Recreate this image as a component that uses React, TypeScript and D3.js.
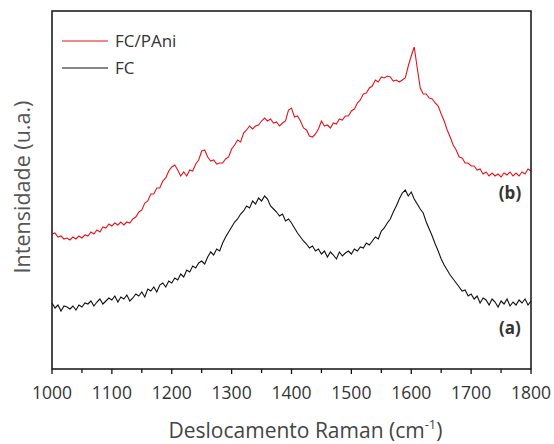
import React, { useEffect, useRef } from "react";
import * as d3 from "d3";

// Raman shift sampling (cm-1)
const shiftStart = 1000;
const shiftStep = 5;

// (b) FC/PAni, intensity (a.u.) every 5 cm-1 from 1000 to 1800
const fcPani = [
  135, 136, 132, 133, 130, 131, 129, 132, 130, 133, 131, 134, 133, 137, 135, 139, 137, 142, 141, 145,
  143, 146, 144, 147, 144, 147, 146, 150, 152, 157, 159, 166, 168, 175, 175, 181, 181, 188, 191, 198,
  202, 204, 199, 193, 197, 193, 199, 198, 205, 209, 218, 219, 212, 208, 209, 205, 206, 206, 210, 212,
  220, 224, 229, 227, 236, 239, 243, 240, 243, 244, 248, 251, 248, 250, 246, 247, 243, 246, 248, 259,
  261, 252, 253, 248, 241, 239, 233, 232, 235, 240, 248, 243, 244, 241, 246, 245, 250, 249, 253, 253,
  258, 260, 266, 269, 275, 276, 281, 283, 289, 287, 292, 291, 293, 292, 288, 289, 287, 289, 291, 303,
  313, 322, 301, 281, 275, 275, 271, 270, 266, 263, 255, 248, 239, 232, 224, 219, 212, 211, 206, 206,
  203, 203, 199, 200, 195, 197, 193, 196, 193, 195, 192, 196, 194, 197, 193, 196, 193, 197, 195, 200,
  198,
];

// (a) FC, intensity (a.u.) every 5 cm-1 from 1000 to 1800
const fc = [
  66, 61, 64, 58, 63, 62, 60, 63, 59, 64, 62, 66, 65, 68, 63, 67, 70, 65, 68, 71,
  69, 73, 67, 72, 70, 74, 68, 71, 75, 73, 77, 72, 80, 78, 82, 77, 84, 86, 82, 88,
  86, 91, 89, 95, 92, 99, 97, 103, 101, 106, 108, 105, 112, 117, 114, 120, 118, 126, 132, 137,
  142, 147, 150, 155, 158, 163, 161, 168, 165, 171, 168, 173, 170, 163, 160, 157, 153, 155, 148, 150,
  146, 141, 136, 132, 128, 125, 121, 123, 118, 120, 115, 118, 112, 117, 114, 110, 117, 113, 116, 118,
  115, 120, 118, 122, 121, 126, 124, 128, 132, 130, 138, 141, 146, 150, 157, 163, 170, 176, 179, 173,
  177, 170, 165, 160, 156, 147, 140, 133, 125, 118, 110, 104, 99, 94, 90, 86, 82, 78, 79, 73,
  75, 70, 73, 66, 71, 69, 64, 70, 67, 62, 68, 65, 70, 63, 67, 64, 69, 66, 70, 64,
  68,
];

const xTicks = [1000, 1100, 1200, 1300, 1400, 1500, 1600, 1700, 1800];
const xMinorTicks = [1050, 1150, 1250, 1350, 1450, 1550, 1650, 1750];
const seriesNames = ["FC/PAni", "FC"];
const seriesColors = ["#e3141b", "#111111"];
const curveLabels = ["(b)", "(a)"];

const W = 554;
const H = 444;
const margin = { top: 11, right: 23, bottom: 75, left: 52 };

const App = () => {
  const ref = useRef<SVGSVGElement>(null);

  useEffect(() => {
    const svg = d3.select(ref.current);
    svg.selectAll("*").remove();

    const iw = W - margin.left - margin.right;
    const ih = H - margin.top - margin.bottom;

    const x = d3.scaleLinear().domain([1000, 1800]).range([0, iw]);
    const y = d3.scaleLinear().domain([0, 358]).range([ih, 0]);

    const g = svg.append("g").attr("transform", `translate(${margin.left},${margin.top})`);

    const line = d3
      .line<number>()
      .x((_, i) => x(shiftStart + i * shiftStep))
      .y((d) => y(d));

    [fcPani, fc].forEach((s, k) => {
      g.append("path")
        .datum(s)
        .attr("fill", "none")
        .attr("stroke", seriesColors[k])
        .attr("stroke-width", 1.1)
        .attr("d", line);
    });

    // frame
    g.append("rect")
      .attr("width", iw)
      .attr("height", ih)
      .attr("fill", "none")
      .attr("stroke", "#111")
      .attr("stroke-width", 1.5);

    // bottom ticks
    const ax = g.append("g").attr("transform", `translate(0,${ih})`);
    ax.selectAll(".major")
      .data(xTicks)
      .enter()
      .append("line")
      .attr("x1", (d) => x(d))
      .attr("x2", (d) => x(d))
      .attr("y1", 0)
      .attr("y2", 5)
      .attr("stroke", "#111")
      .attr("stroke-width", 1.3);
    ax.selectAll(".minor")
      .data(xMinorTicks)
      .enter()
      .append("line")
      .attr("x1", (d) => x(d))
      .attr("x2", (d) => x(d))
      .attr("y1", 0)
      .attr("y2", 4)
      .attr("stroke", "#111")
      .attr("stroke-width", 1.3);
    ax.selectAll(".lbl")
      .data(xTicks)
      .enter()
      .append("text")
      .attr("x", (d) => x(d))
      .attr("y", 30)
      .attr("text-anchor", "middle")
      .style("font-family", "'Open Sans', sans-serif")
      .style("font-size", "17.5px")
      .style("fill", "#333")
      .text((d) => d);

    // axis titles
    const xt = svg
      .append("text")
      .attr("x", margin.left + iw / 2 + 14)
      .attr("y", 438)
      .attr("text-anchor", "middle")
      .style("font-family", "'Open Sans', sans-serif")
      .style("font-size", "21px")
      .style("fill", "#444");
    xt.append("tspan").text("Deslocamento Raman (cm");
    xt.append("tspan").attr("dy", -9).style("font-size", "13px").text("-1");
    xt.append("tspan").attr("dy", 9).text(")");

    svg
      .append("text")
      .attr("transform", `translate(30,187) rotate(-90)`)
      .attr("text-anchor", "middle")
      .style("font-family", "'Open Sans', sans-serif")
      .style("font-size", "21.5px")
      .style("fill", "#555")
      .text("Intensidade (u.a.)");

    // legend
    seriesNames.forEach((name, k) => {
      const ly = 41 + k * 27;
      svg
        .append("line")
        .attr("x1", 62)
        .attr("x2", 108)
        .attr("y1", ly)
        .attr("y2", ly)
        .attr("stroke", seriesColors[k])
        .attr("stroke-width", 1.2);
      svg
        .append("text")
        .attr("x", 115)
        .attr("y", ly + 6)
        .style("font-family", "'Open Sans', sans-serif")
        .style("font-size", "17px")
        .style("fill", "#333")
        .text(name);
    });

    // curve labels
    [193, 328].forEach((cy, k) => {
      svg
        .append("text")
        .attr("x", 510)
        .attr("y", cy + 6)
        .attr("text-anchor", "middle")
        .style("font-family", "'Open Sans', sans-serif")
        .style("font-size", "17px")
        .style("font-weight", "700")
        .style("fill", "#333")
        .text(curveLabels[k]);
    });
  }, []);

  return (
    <svg
      ref={ref}
      width={W}
      height={H}
      style={{ position: "absolute", left: 0, top: 0, background: "#fff" }}
    />
  );
};

export default App;
